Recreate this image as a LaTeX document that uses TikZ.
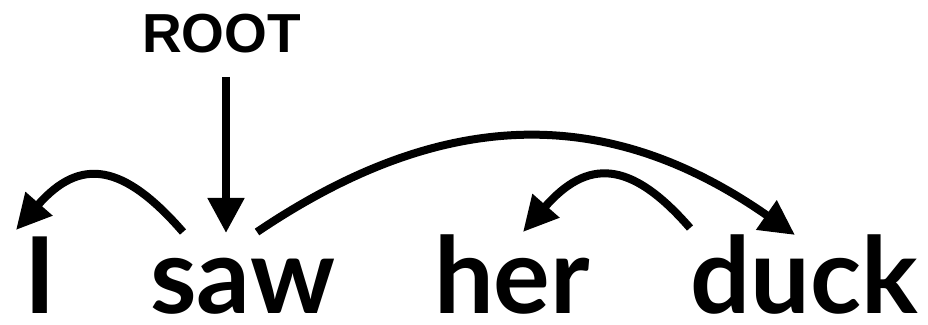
\documentclass[tikz,border=0pt]{standalone}
\usepackage{fontspec}
\setmainfont{Lato}
\newfontfamily\rootfont{Liberation Sans}
\usetikzlibrary{arrows.meta}
\tikzset{
  word/.style={inner sep=0pt, anchor=base, text depth=0pt, font=\fontsize{106}{106}\selectfont\bfseries},
  rootlabel/.style={inner sep=0pt, anchor=base, text depth=0pt, font=\rootfont\fontsize{55}{55}\selectfont\bfseries},
  dep/.style={line width=8pt, -{Triangle[length=35pt,width=34pt]}},
  rootarrow/.style={line width=8pt, -{Triangle[length=35pt,width=35pt]}}
}
\begin{document}
\begin{tikzpicture}[x=1pt,y=1pt]
\useasboundingbox (0,0) rectangle (928,324);
% words
\node[word] (I) at (40.5,11) {I};
\node[word] (saw) at (242.5,11) {saw};
\node[word] (her) at (512,11) {her};
\node[word] (duck) at (804.5,11) {duck};
\node[rootlabel] (root) at (221.5,271) {ROOT};
% connector end points
\coordinate (rootS) at (226,247);
\coordinate (rootE) at (226,91);
\coordinate (sawA) at (183,92);
\coordinate (Itip) at (16,94);
\coordinate (sawB) at (257,92);
\coordinate (ducktip) at (795,89);
\coordinate (duckA) at (690,96);
\coordinate (hertip) at (523,92);
% connectors
\draw[rootarrow] (rootS) -- (rootE);
\draw[dep] (sawA) .. controls ([shift={(-60,69)}]sawA) and ([shift={(64,73)}]Itip) .. (Itip);
\draw[dep] (sawB) .. controls (445,219) and (609,219) .. (ducktip);
\draw[dep] (duckA) .. controls ([shift={(-60,69)}]duckA) and ([shift={(64,73)}]hertip) .. (hertip);
\end{tikzpicture}
\end{document}
